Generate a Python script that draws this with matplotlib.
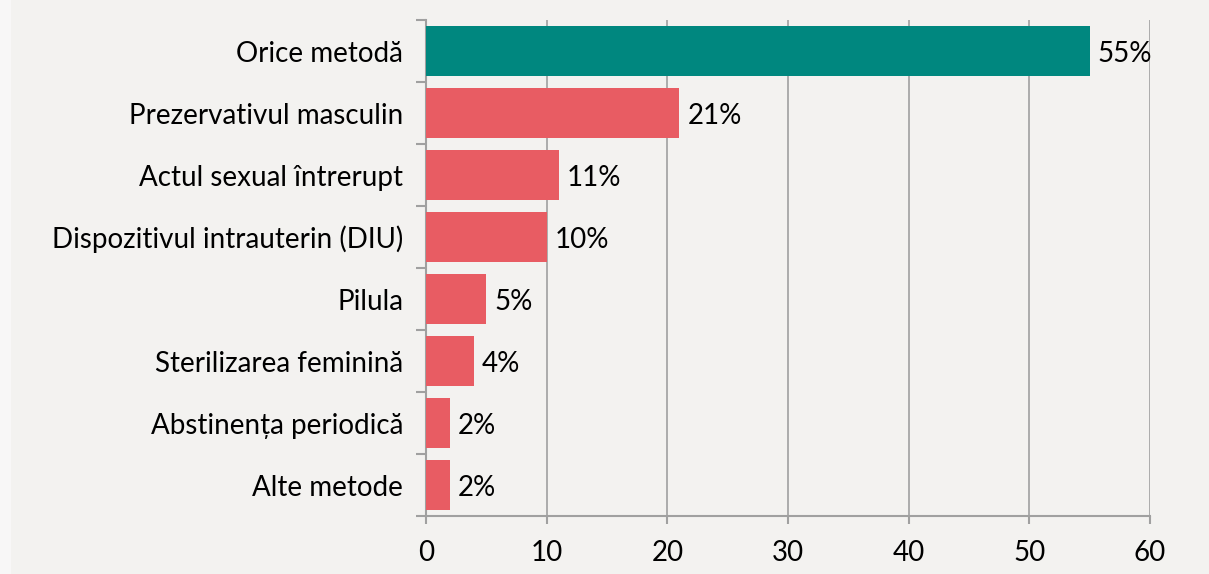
import matplotlib.pyplot as plt
from matplotlib.patches import Rectangle
import numpy as np

categories = ["Orice metodă", "Prezervativul masculin", "Actul sexual întrerupt",
              "Dispozitivul intrauterin (DIU)", "Pilula", "Sterilizarea feminină",
              "Abstinența periodică", "Alte metode"]
values = [55, 21, 11, 10, 5, 4, 2, 2]
xticks = [0, 10, 20, 30, 40, 50, 60]

bg = "#f3f2f0"
teal = "#00877f"
red = "#e85c63"
grid = "#a0a0a0"

plt.rcParams['font.family'] = ['Lato', 'DejaVu Sans']

fig = plt.figure(figsize=(12.09, 5.74), dpi=100, facecolor=bg)
# lighter strip along the left edge
fig.patches.append(Rectangle((0, 0), 11 / 1209, 1, transform=fig.transFigure,
                             facecolor="#f8f7f7", edgecolor='none', zorder=0))
ax = fig.add_axes([0.3524, 0.101, 0.5988, 0.8641], facecolor=bg)

y = np.arange(len(categories))
colors = [teal] + [red] * (len(categories) - 1)
ax.barh(y, values, height=0.8, color=colors, zorder=3)

for yi, v in zip(y, values):
    ax.text(v + 0.65, yi + 0.05, f"{v}%", va='center', ha='left', fontsize=20, color='black', zorder=4)

ax.set_ylim(len(categories) - 0.5, -0.5)
ax.set_xlim(0, 60)
ax.set_xticks(xticks)
ax.set_xticklabels([str(t) for t in xticks], fontsize=20)
ax.set_yticks(y)
ax.set_yticklabels(categories, fontsize=20)
ax.set_yticks(np.arange(len(categories) + 1) - 0.5, minor=True)

ax.tick_params(axis='y', which='major', length=0, pad=16.5)
ax.tick_params(axis='y', which='minor', length=7, width=1.5, color=grid)
ax.tick_params(axis='x', which='major', length=6, width=1.5, color=grid, pad=11)

ax.grid(axis='x', color=grid, linewidth=1.2, zorder=0)
for s in ['top', 'right']:
    ax.spines[s].set_visible(False)
for s in ['left', 'bottom']:
    ax.spines[s].set_color(grid)
    ax.spines[s].set_linewidth(1.5)

fig.savefig("out.png", dpi=100, facecolor=bg)
